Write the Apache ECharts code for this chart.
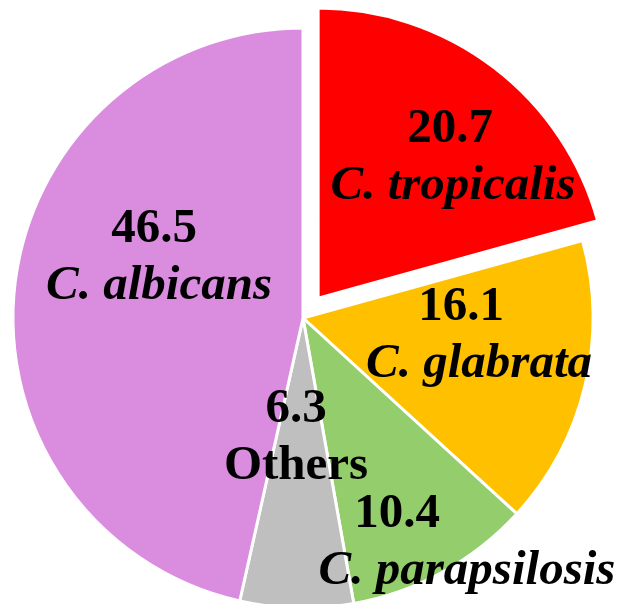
<!DOCTYPE html>
<html>
<head>
<meta charset="utf-8">
<script src="https://cdn.jsdelivr.net/npm/echarts@6/dist/echarts.min.js"></script>
<style>
  html, body { margin: 0; padding: 0; background: #fff; }
  #main { width: 617px; height: 604px; }
</style>
</head>
<body>
<div id="main"></div>
<script>
  // species (clockwise from 12 o'clock) and their share in %
  const species = ['C. tropicalis', 'C. glabrata', 'C. parapsilosis', 'Others', 'C. albicans'];
  const shares = [20.7, 16.1, 10.4, 6.3, 46.5];
  const colors = ['#FF0000', '#FFC000', '#93CD6C', '#BFBFBF', '#DA8CDF'];

  // where each label block sits, and how far the number line is shifted left of the name line
  const labelPos = [[453, 158], [479, 336], [467, 543], [296, 438], [159, 258]];
  const numShift = [3, 18, 70, 0, 5];

  const myChart = echarts.init(document.getElementById('main'));

  const center = [303, 318];
  const explode = 25; // the first slice is pulled out of the pie
  const total = shares.reduce(function (a, b) { return a + b; }, 0);
  const midAngle = (90 - shares[0] / total * 180) * Math.PI / 180;
  const explodedCenter = [center[0] + explode * Math.cos(midAngle), center[1] - explode * Math.sin(midAngle)];

  const hidden = { color: 'rgba(0,0,0,0)', borderWidth: 0 };

  // main pie: every slice but the pulled-out one, plus all labels
  const mainData = species.map(function (name, i) {
    return {
      name: name,
      value: shares[i],
      itemStyle: i === 0 ? hidden : { color: colors[i] },
      label: { rich: { v: { padding: [0, numShift[i] * 2, 0, 0] } } }
    };
  });

  // second pie, moved out: only the first slice is drawn
  const explodedData = species.map(function (name, i) {
    return {
      name: name,
      value: shares[i],
      itemStyle: i === 0 ? { color: colors[i] } : hidden
    };
  });

  const font = { fontFamily: 'Liberation Serif', fontWeight: 'bold', fontSize: 49, lineHeight: 57, color: '#000' };

  const option = {
    animation: false,
    series: [
      {
        type: 'pie',
        center: explodedCenter,
        radius: 290,
        startAngle: 90,
        clockwise: true,
        silent: true,
        itemStyle: { borderColor: '#fff', borderWidth: 3 },
        label: { show: false },
        labelLine: { show: false },
        data: explodedData
      },
      {
        type: 'pie',
        center: center,
        radius: 290,
        startAngle: 90,
        clockwise: true,
        silent: true,
        itemStyle: { borderColor: '#fff', borderWidth: 3 },
        label: {
          show: true,
          position: 'inside',
          formatter: function (p) {
            const nameStyle = p.name === 'Others' ? 'o' : 'n';
            return '{v|' + p.value + '}\n{' + nameStyle + '|' + p.name + '}';
          },
          rich: {
            v: Object.assign({}, font),
            n: Object.assign({ fontStyle: 'italic' }, font),
            o: Object.assign({}, font)
          }
        },
        labelLine: { show: false },
        labelLayout: function (p) {
          const pos = labelPos[p.dataIndex];
          return { x: pos[0], y: pos[1], align: 'center', verticalAlign: 'middle' };
        },
        data: mainData
      }
    ]
  };
  myChart.setOption(option);
</script>
</body>
</html>
